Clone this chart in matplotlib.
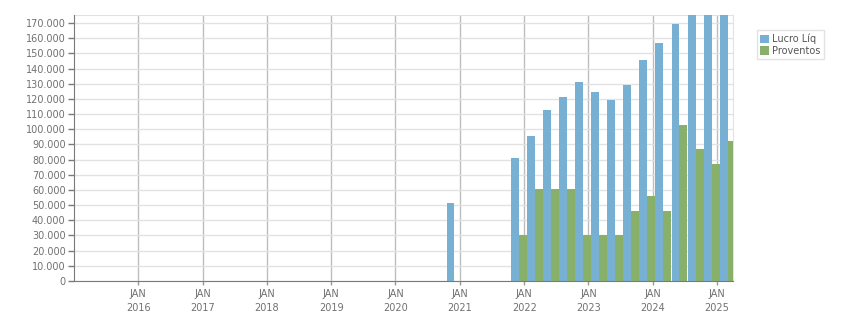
import numpy as np
import pandas as pd
import matplotlib
matplotlib.use("Agg")
import matplotlib.pyplot as plt
from matplotlib.ticker import FuncFormatter

# data: quarter dates (first day of the quarter's last month)
periods = ["2020-12", "2021-03", "2021-06", "2021-09", "2021-12",
           "2022-03", "2022-06", "2022-09", "2022-12",
           "2023-03", "2023-06", "2023-09", "2023-12",
           "2024-03", "2024-06", "2024-09", "2024-12", "2025-03"]
lucro_liq = [51400, 0, 0, 0, 81000,
             95500, 112600, 121200, 131100,
             124500, 119200, 129100, 145600,
             156800, 169300, 190000, 195000, 200000]
proventos = [0, 0, 0, 0, 30000,
             60600, 60600, 60600, 30300,
             30300, 30300, 46100, 56000,
             46100, 102800, 87000, 77100, 92200]
year_ticks = list(range(2016, 2026))

blue = "#78b0d3"
green = "#89b06b"
lbl_color = "#707070"

dates = pd.to_datetime(periods)
years = pd.to_datetime([f"{y}-01-01" for y in year_ticks])

fig = plt.figure(figsize=(8.51, 3.13), dpi=100)
ax = fig.add_axes([74/851, 32/313, (733-74)/851, (281-15.4)/313])

w = 45  # days per bar
ax.bar(dates, lucro_liq, width=-w, align="edge", color=blue, zorder=3, label="Lucro Líq")
ax.bar(dates, proventos, width=w, align="edge", color=green, zorder=3, label="Proventos")

ax.set_xlim(pd.Timestamp("2015-01-01"), pd.Timestamp("2025-04-01"))
ax.set_ylim(0, 175000)

ax.set_xticks(years)
ax.set_xticklabels([f"JAN\n{y}" for y in year_ticks])
ax.set_yticks(np.arange(0, 170001, 10000))
ax.yaxis.set_major_formatter(FuncFormatter(lambda v, p: f"{int(v):,}".replace(",", ".")))

ax.grid(axis="y", color="#e2e2e2", lw=1, zorder=0)
ax.grid(axis="x", color="#bdbdbd", lw=1, zorder=1)

for s in ["top", "right"]:
    ax.spines[s].set_color("#e2e2e2")
for s in ["left", "bottom"]:
    ax.spines[s].set_color("#7a7a7a")
    ax.spines[s].set_zorder(4)

ax.tick_params(axis="y", length=4, width=1, color="#7a7a7a", labelsize=7, labelcolor=lbl_color, pad=2)
ax.tick_params(axis="x", length=3, width=1, color="#9a9a9a", labelsize=7, labelcolor=lbl_color, pad=3)
for t in ax.get_xticklabels():
    t.set_linespacing(1.5)

fig.legend(loc="upper left", bbox_to_anchor=(757/851, 1 - 30/313), borderaxespad=0,
           fontsize=7, frameon=True, fancybox=False, edgecolor="#dddddd",
           handlelength=0.9, handleheight=0.9, handletextpad=0.3, borderpad=0.35,
           labelspacing=0.2, labelcolor="#555555")

fig.savefig("out.png", dpi=100)
